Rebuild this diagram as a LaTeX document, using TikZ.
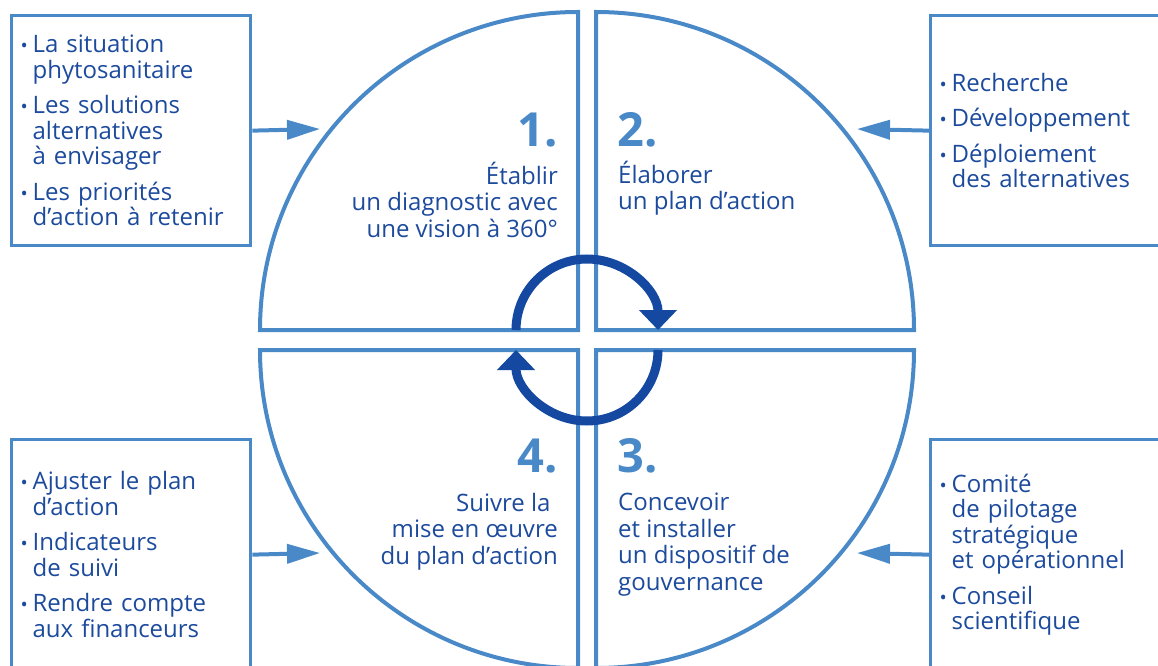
\documentclass[tikz,border=0pt]{standalone}
\usepackage{fontspec}
\setmainfont{Open Sans}[BoldFont={Open Sans Bold}]
\usetikzlibrary{arrows.meta}
\definecolor{bleuclair}{RGB}{74,137,200}
\definecolor{bleutexte}{RGB}{28,74,156}
\definecolor{bleucycle}{RGB}{21,72,160}
\newcommand{\puce}{\makebox[12pt][l]{\scalebox{0.8}{•}}}
\newcommand{\retrait}{\hspace*{12pt}}

\begin{document}
\begin{tikzpicture}[x=1pt,y=1pt,
   encadre/.style={draw=bleuclair,line width=3.3pt,minimum width=239pt,minimum height=230pt,
      text width=221pt,inner xsep=9pt,align=left,text=bleutexte,font=\fontsize{24}{25.5}\selectfont},
   quartier/.style={draw=bleuclair,line width=4pt},
   numero/.style={text=bleuclair,inner sep=0pt,font=\fontsize{47}{47}\selectfont\bfseries},
   etape/.style={text=bleutexte,inner sep=0pt,font=\fontsize{24}{26.5}\selectfont},
   fleche/.style={draw=bleuclair,line width=4pt,-{Triangle[length=33pt,width=19pt]}},
   boucle/.style={draw=bleucycle,line width=9pt,-{Triangle[length=20pt,width=37pt]}}]
   \useasboundingbox (0,0) rectangle (1158,665);
   \clip (0,0) rectangle (1158,665);

   \draw[quartier] (578,335) -- (260,335) arc (180:90:318) -- cycle;
   \draw[quartier] (596,335) -- (596,653) arc (90:0:318) -- cycle;
   \draw[quartier] (578,315) -- (260,315) arc (180:270:318) -- cycle;
   \draw[quartier] (596,315) -- (914,315) arc (0:-90:318) -- cycle;

   \node[numero,anchor=base east] (n1) at (558,518) {1.};
   \node[etape,anchor=base east,align=right] (e1) at (558,428) {Établir\\un diagnostic avec\\une vision à 360°};
   \node[numero,anchor=base west] (n2) at (617,518) {2.};
   \node[etape,anchor=base west,align=left] (e2) at (618,455) {Élaborer\\un plan d’action};
   \node[numero,anchor=base west] (n3) at (617,193) {3.};
   \node[etape,anchor=base west,align=left] (e3) at (618,75) {Concevoir\\et installer\\un dispositif de\\gouvernance};
   \node[numero,anchor=base east] (n4) at (558,193) {4.};
   \node[etape,anchor=base east,align=right] (e4) at (558,101) {Suivre la\hspace*{0.3em}\\mise en œuvre\\du plan d’action};

   \node[encadre,anchor=north west] (sources) at (10,651) {\puce La situation\\\retrait phytosanitaire\\[10pt]\puce Les solutions\\\retrait alternatives\\\retrait à envisager\\[10pt]\puce Les priorités\\\retrait d’action à retenir};
   \node[encadre,anchor=north west] (leviers) at (929,651) {\puce Recherche\\[10pt]\puce Développement\\[10pt]\puce Déploiement\\\retrait des alternatives};
   \node[encadre,anchor=north west] (suivi) at (10,227) {\puce Ajuster le plan\\\retrait d’action\\[10pt]\puce Indicateurs\\\retrait de suivi\\[10pt]\puce Rendre compte\\\retrait aux financeurs};
   \node[encadre,anchor=north west] (gouvernance) at (929,227) {\puce Comité\\\retrait de pilotage\\\retrait stratégique\\\retrait et opérationnel\\[10pt]\puce Conseil\\\retrait scientifique};

   \coordinate (entree1) at (320,536);
   \coordinate (entree2) at (857,536);
   \coordinate (entree3) at (857,112);
   \coordinate (entree4) at (320,112);
   \draw[fleche] (sources.east) -- (entree1);
   \draw[fleche] (leviers.west) -- (entree2);
   \draw[fleche] (gouvernance.west) -- (entree3);
   \draw[fleche] (suivi.east) -- (entree4);

   \coordinate (centrehaut) at (587,335);
   \coordinate (centrebas) at (587,315);
   \draw[boucle] ([xshift=-71pt]centrehaut) arc (180:0:71);
   \draw[boucle] ([xshift=71pt]centrebas) arc (0:-180:71);
\end{tikzpicture}
\end{document}
